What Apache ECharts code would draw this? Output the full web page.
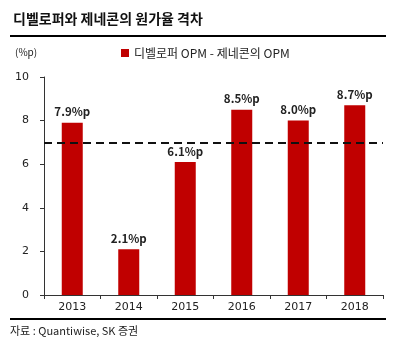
<!DOCTYPE html>
<html><head><meta charset="utf-8">
<script src="https://cdn.jsdelivr.net/npm/echarts@6/dist/echarts.min.js"></script>
<style>html,body{margin:0;padding:0;background:#fff}#c{width:393px;height:355px}</style>
</head><body><div id="c"></div>
<script>
const categories = ['2013','2014','2015','2016','2017','2018'];
const values = [7.9, 2.1, 6.1, 8.5, 8.0, 8.7];
const refLine = 7;
const seriesName = '디벨로퍼 OPM - 제네콘의 OPM';
const titleText = '디벨로퍼와 제네콘의 원가율 격차';
const unitText = '(%p)';
const sourceText = '자료 : Quantiwise, SK 증권';
const FONT = '"Noto Sans CJK KR", "Noto Sans", sans-serif';

const chart = echarts.init(document.getElementById('c'));
chart.setOption({
  animation: false,
  textStyle: { fontFamily: FONT },
  title: {
    text: titleText, left: 8, top: 7,
    textStyle: { fontSize: 14, fontWeight: 'bold', color: '#111', fontFamily: FONT }
  },
  legend: {
    data: [seriesName], top: 42, left: 116,
    itemWidth: 8, itemHeight: 8, itemGap: 4, icon: 'rect',
    textStyle: { fontSize: 12, color: '#222', fontFamily: FONT }
  },
  grid: { left: 44, right: 10, top: 77, bottom: 60 },
  xAxis: {
    type: 'category', data: categories,
    axisLine: { lineStyle: { color: '#333', width: 1 } },
    axisTick: { show: true, length: 4, lineStyle: { color: '#333' } },
    axisLabel: { fontSize: 11, color: '#222', margin: 7, fontFamily: 'Tahoma, "DejaVu Sans", sans-serif' }
  },
  yAxis: {
    type: 'value', min: 0, max: 10, interval: 2,
    axisLine: { show: true, lineStyle: { color: '#333', width: 1 } },
    axisTick: { show: true, length: 4, lineStyle: { color: '#333' } },
    splitLine: { show: false },
    axisLabel: { fontSize: 11, color: '#222', margin: 15, fontFamily: 'Tahoma, "DejaVu Sans", sans-serif' }
  },
  series: [{
    name: seriesName, type: 'bar', data: values, barWidth: 21,
    itemStyle: { color: '#C00000' },
    label: {
      show: true, position: 'top', distance: 5,
      formatter: p => p.value.toFixed(1) + '%p',
      fontSize: 11.5, fontWeight: 'bold', color: '#222', fontFamily: FONT
    },
    markLine: {
      symbol: 'none', silent: true, label: { show: false },
      lineStyle: { type: [8, 5], color: '#111', width: 2 },
      data: [{ yAxis: refLine }]
    }
  }],
  graphic: [
    { type: 'rect', shape: { x: 10, y: 35, width: 376, height: 2 }, style: { fill: '#000' } },
    { type: 'rect', shape: { x: 10, y: 318, width: 376, height: 2 }, style: { fill: '#000' } },
    { type: 'text', left: 15, top: 47, style: { text: unitText, fontSize: 10, fill: '#222', fontFamily: FONT } },
    { type: 'text', left: 10, top: 325, style: { text: sourceText, fontSize: 11, fill: '#222', fontFamily: FONT } }
  ]
});
</script></body></html>
